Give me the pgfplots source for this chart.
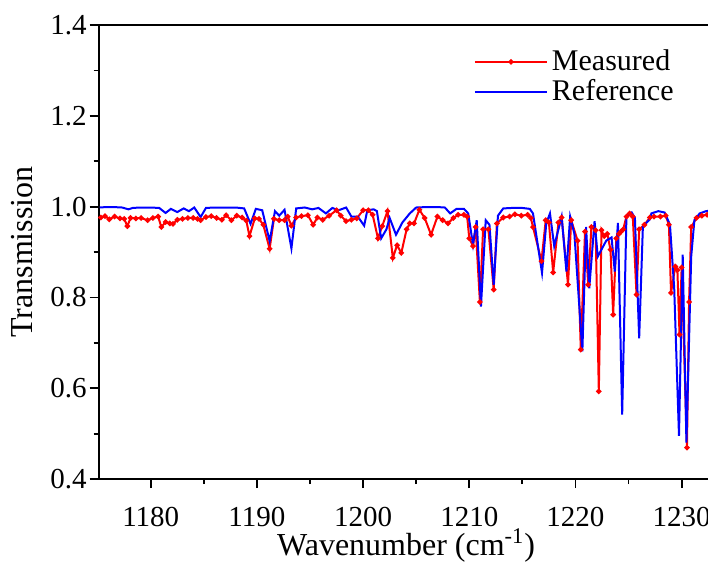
\documentclass[border=0pt]{standalone}
\usepackage{pgfplots}
\pgfplotsset{compat=1.18}
\usepackage{fontspec}
\setmainfont{Liberation Serif}
\begin{document}
\fontsize{14.5}{17}\selectfont
\begin{tikzpicture}
\begin{axis}[
  scale only axis,
  width=307.4pt, height=227pt,
  xmin=1175.1, xmax=1233,
  ymin=0.4, ymax=1.4,
  xtick={1180,1190,1200,1210,1220,1230},
  minor xtick={1175,1185,1195,1205,1215,1225},
  ytick={0.4,0.6,0.8,1.0,1.2,1.4},
  minor ytick={0.5,0.7,0.9,1.1,1.3},
  /pgf/number format/assume math mode=true,
  yticklabel style={/pgf/number format/fixed,/pgf/number format/fixed zerofill,/pgf/number format/precision=1, xshift=3.5pt},
  xticklabel style={/pgf/number format/set thousands separator={}, yshift=-4.5pt},
  tick align=outside,
  xtick pos=bottom, ytick pos=left,
  major tick length=4.5pt, minor tick length=2.5pt,
  every tick/.style={black, line width=0.9pt},
  axis line style={line width=1pt},
  xlabel={Wavenumber (cm\textsuperscript{-1})},
  ylabel={Transmission},
  xlabel style={yshift=9pt, font=\fontsize{16}{18}\selectfont},
  ylabel style={yshift=-1pt, font=\fontsize{16}{19}\selectfont},
  legend style={draw=none, fill=none, at={(0.6,0.965)}, anchor=north west, row sep=-1.5pt, font=\fontsize{15}{17}\selectfont},
  legend cell align=left,
  legend image code/.code={\draw[mark repeat=2,mark phase=2,#1] plot coordinates {(0pt,0pt)(18pt,0pt)(36pt,0pt)};},
]
\addplot[red, line width=1pt, mark=*, mark size=0.8pt] coordinates {
(1175.3,0.976)(1175.7,0.979)(1176.1,0.972)(1176.6,0.978)(1177.1,0.974)(1177.5,0.973)(1177.8,0.957)(1178.1,0.975)
(1178.6,0.974)(1179.1,0.975)(1179.7,0.970)(1180.2,0.975)(1180.7,0.978)(1181.0,0.955)(1181.4,0.966)(1181.8,0.963)
(1182.1,0.962)(1182.5,0.971)(1183.0,0.973)(1183.5,0.975)(1184.0,0.975)(1184.4,0.973)(1184.7,0.970)(1185.2,0.977)
(1185.7,0.979)(1186.2,0.975)(1186.7,0.971)(1187.1,0.981)(1187.6,0.970)(1188.1,0.980)(1188.6,0.976)(1189.0,0.969)
(1189.3,0.935)(1189.8,0.974)(1190.2,0.973)(1190.6,0.960)(1191.2,0.907)(1191.6,0.973)(1192.1,0.970)(1192.6,0.970)
(1192.9,0.978)(1193.25,0.958)(1193.7,0.976)(1194.2,0.979)(1194.8,0.981)(1195.3,0.960)(1195.7,0.976)(1196.2,0.971)
(1196.8,0.980)(1197.5,0.992)(1197.9,0.980)(1198.4,0.968)(1198.9,0.971)(1199.4,0.974)(1200.0,0.992)(1200.5,0.992)
(1200.9,0.982)(1201.4,0.930)(1201.8,0.957)(1202.3,0.990)(1202.8,0.887)(1203.2,0.915)(1203.6,0.898)(1204.1,0.950)
(1204.4,0.963)(1204.8,0.963)(1205.3,0.993)(1205.8,0.975)(1206.4,0.938)(1207.0,0.978)(1207.5,0.970)(1208.0,0.963)
(1208.5,0.975)(1208.95,0.982)(1209.5,0.982)(1209.8,0.978)(1210.0,0.930)(1210.35,0.913)(1210.6,0.955)(1211.0,0.790)
(1211.3,0.950)(1211.8,0.950)(1212.3,0.817)(1212.6,0.963)(1213.2,0.976)(1213.8,0.978)(1214.3,0.983)(1214.9,0.980)
(1215.5,0.982)(1215.8,0.975)(1216.0,0.955)(1216.8,0.880)(1217.2,0.970)(1217.5,0.965)(1217.9,0.855)(1218.4,0.965)
(1218.7,0.976)(1219.3,0.828)(1219.6,0.970)(1220.2,0.925)(1220.5,0.685)(1220.9,0.945)(1221.2,0.828)(1221.5,0.955)
(1221.9,0.948)(1222.2,0.593)(1222.45,0.948)(1222.7,0.935)(1223.0,0.940)(1223.3,0.905)(1223.55,0.762)(1223.85,0.930)
(1224.1,0.940)(1224.3,0.945)(1224.5,0.950)(1224.8,0.978)(1225.1,0.985)(1225.4,0.978)(1225.75,0.806)(1226.0,0.950)
(1226.5,0.960)(1227.0,0.976)(1227.4,0.978)(1228.0,0.978)(1228.5,0.980)(1228.8,0.960)(1229.0,0.810)(1229.4,0.868)
(1229.6,0.860)(1229.8,0.718)(1230.0,0.866)(1230.5,0.469)(1230.7,0.790)(1230.9,0.955)(1231.4,0.975)(1231.9,0.980)
(1232.4,0.982)(1233.0,0.985)
};
\addlegendentry{Measured}
\addplot[blue, line width=1pt] coordinates {
(1175.2,0.998)(1175.8,0.999)(1176.5,0.999)(1177.3,0.998)(1177.9,0.994)(1178.3,0.997)(1179.0,0.998)(1180.0,0.998)
(1180.8,0.997)(1181.4,0.986)(1181.9,0.995)(1182.5,0.988)(1183.1,0.996)(1183.6,0.990)(1184.1,0.998)(1184.7,0.977)
(1185.2,0.997)(1186.0,0.998)(1187.0,0.998)(1188.0,0.998)(1188.8,0.996)(1189.4,0.962)(1189.9,0.995)(1190.5,0.992)
(1191.2,0.924)(1191.7,0.990)(1192.1,0.980)(1192.6,0.993)(1193.25,0.908)(1193.7,0.996)(1194.5,0.998)(1195.2,0.994)
(1195.8,0.997)(1196.5,0.985)(1197.1,0.997)(1197.7,0.992)(1198.4,0.998)(1198.9,0.978)(1199.5,0.978)(1200.1,0.958)
(1200.4,0.992)(1201.0,0.994)(1201.3,0.990)(1201.7,0.930)(1202.2,0.950)(1202.5,0.975)(1203.1,0.938)(1203.7,0.965)
(1204.4,0.985)(1205.0,0.998)(1206.0,0.999)(1207.0,0.999)(1207.7,0.998)(1208.2,0.985)(1208.8,0.995)(1209.5,0.995)
(1209.9,0.985)(1210.35,0.916)(1210.7,0.970)(1211.1,0.780)(1211.55,0.970)(1211.9,0.960)(1212.3,0.828)(1212.7,0.980)
(1213.2,0.996)(1214.0,0.997)(1215.0,0.997)(1215.7,0.995)(1216.0,0.985)(1216.85,0.854)(1217.25,0.963)(1217.6,0.985)
(1218.0,0.913)(1218.7,0.978)(1219.15,0.857)(1219.5,0.978)(1219.9,0.940)(1220.65,0.681)(1221.0,0.955)(1221.3,0.820)
(1221.8,0.968)(1222.1,0.890)(1222.6,0.912)(1222.9,0.925)(1223.4,0.932)(1223.7,0.857)(1224.0,0.964)(1224.4,0.542)
(1224.8,0.978)(1225.3,0.987)(1225.6,0.975)(1226.0,0.710)(1226.35,0.956)(1227.0,0.972)(1227.15,0.985)(1227.8,0.990)
(1228.4,0.987)(1228.9,0.960)(1229.3,0.820)(1229.75,0.495)(1230.1,0.894)(1230.45,0.480)(1230.9,0.890)(1231.2,0.970)
(1231.7,0.985)(1232.3,0.990)(1233.0,0.992)
};
\addlegendentry{Reference}
\end{axis}
\pgfresetboundingbox
\path[use as bounding box] ([xshift=-49.35pt,yshift=-42pt]current axis.south west) rectangle ([xshift=304.65pt,yshift=239.5pt]current axis.south west);
\end{tikzpicture}
\end{document}
